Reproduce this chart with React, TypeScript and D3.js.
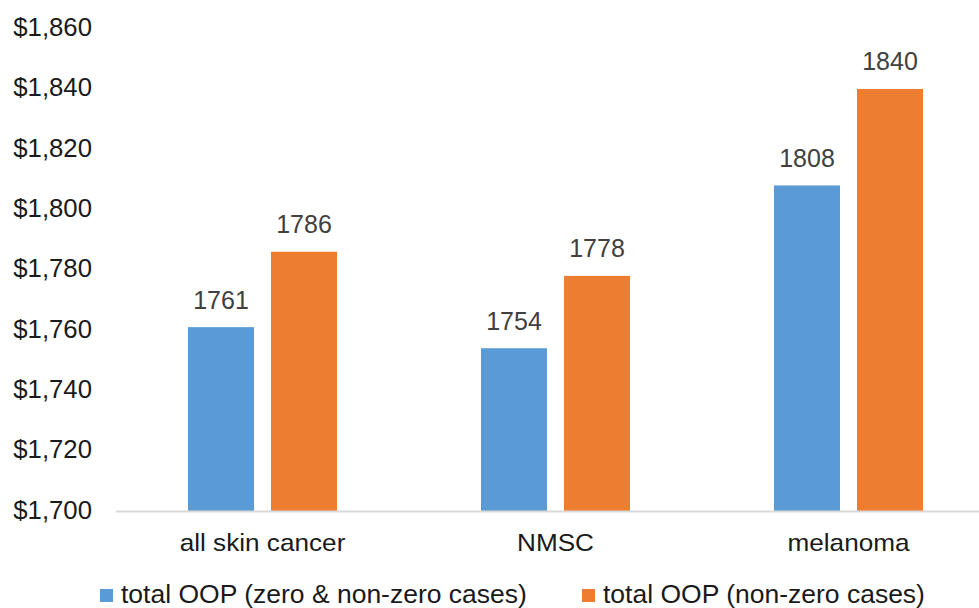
import React from 'react';
import * as d3 from 'd3';

// categories and series
const categories = ['all skin cancer', 'NMSC', 'melanoma'];
const seriesNames = ['total OOP (zero & non-zero cases)', 'total OOP (non-zero cases)'];
const zeroAndNonZero = [1761, 1754, 1808];
const nonZeroOnly = [1786, 1778, 1840];
const yTicks = [1700, 1720, 1740, 1760, 1780, 1800, 1820, 1840, 1860];

const colors = ['#5b9bd5', '#ed7d31'];
const W = 979;
const H = 608;
const FONT = '"Liberation Sans", Arial, sans-serif';

const App = () => {
  // plot area
  const left = 116;
  const right = 995;
  const top = 28.7;
  const bottom = 511;

  const y = d3.scaleLinear().domain([1700, 1860]).range([bottom, top]);

  const x0 = d3.scaleBand<string>()
    .domain(categories)
    .range([left, right])
    .paddingInner(0.4915)
    .paddingOuter(0.24575);

  const x1 = d3.scaleBand<string>()
    .domain(seriesNames)
    .range([0, x0.bandwidth()])
    .paddingInner(17 / 83)
    .paddingOuter(0);

  const fmt = d3.format('$,');
  const rows = [zeroAndNonZero, nonZeroOnly];

  return (
    <svg width={W} height={H} style={{ position: 'absolute', left: 0, top: 0, background: '#fff' }}
      fontFamily={FONT}>
      {/* y axis labels */}
      {yTicks.map(t => (
        <text key={t} transform={`translate(92,${y(t) + 7.5}) scale(1.03,1)`}
          textAnchor="end" fontSize={25} fill="#1a1a1a">{fmt(t)}</text>
      ))}

      {/* bars */}
      {categories.map((c, i) => (
        <g key={c} transform={`translate(${x0(c)},0)`}>
          {seriesNames.map((s, j) => {
            const v = rows[j][i];
            const bx = x1(s) as number;
            return (
              <g key={s}>
                <rect x={bx} y={y(v)} width={x1.bandwidth()} height={y(1700) - y(v)} fill={colors[j]} />
                <text x={bx + x1.bandwidth() / 2} y={y(v) - 18.5} textAnchor="middle"
                  fontSize={25} fill="#404040">{v}</text>
              </g>
            );
          })}
        </g>
      ))}

      {/* baseline */}
      <line x1={left} x2={W} y1={bottom + 0.5} y2={bottom + 0.5} stroke="#d9d9d9" strokeWidth={2} />

      {/* category labels */}
      {categories.map(c => (
        <text key={c} transform={`translate(${(x0(c) as number) + x0.bandwidth() / 2},551) scale(1.09,1)`}
          textAnchor="middle" fontSize={24} fill="#1a1a1a">{c}</text>
      ))}

      {/* legend */}
      {seriesNames.map((s, j) => {
        const lx = j === 0 ? 100 : 582;
        return (
          <g key={s}>
            <rect x={lx} y={589} width={13} height={13} fill={colors[j]} />
            <text transform={`translate(${lx + 21},603) scale(1.06,1)`} fontSize={25} fill="#1a1a1a">{s}</text>
          </g>
        );
      })}
    </svg>
  );
};

export default App;
